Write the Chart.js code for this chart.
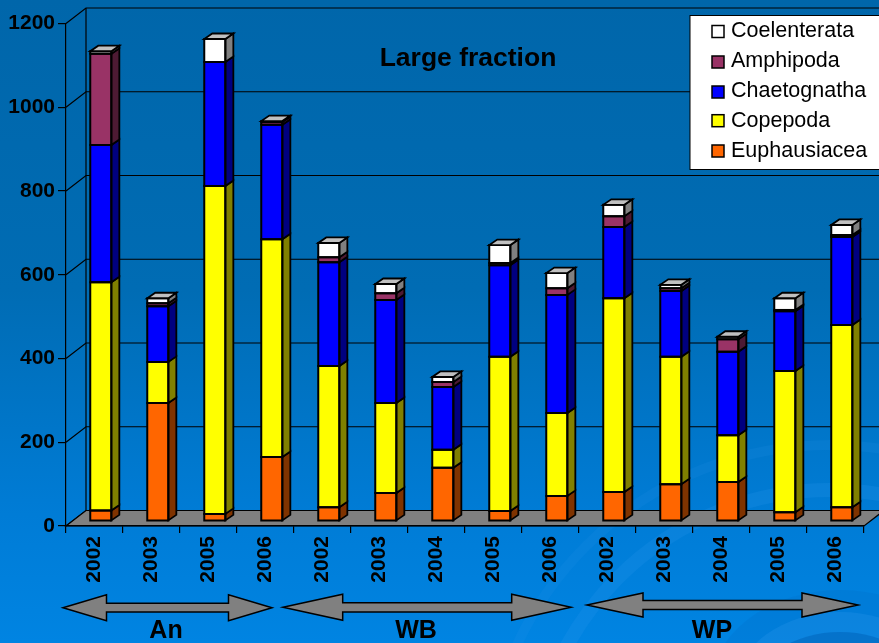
<!DOCTYPE html>
<html><head><meta charset="utf-8">
<style>html,body{margin:0;padding:0;background:#0070c0}canvas{display:block}</style>
<script src="https://cdn.jsdelivr.net/npm/chart.js@4/dist/chart.umd.min.js"></script>
</head><body>
<canvas id="c" width="879" height="643" style="width:879px;height:643px"></canvas>
<script>
const categories = ['2002','2003','2005','2006','2002','2003','2004','2005','2006','2002','2003','2004','2005','2006'];
const euphausiacea = [25,282,17,153,33,67,127,24,60,69,88,93,21,33];
const copepoda     = [545,98,783,520,337,215,43,368,198,463,304,112,337,435];
const chaetognatha = [328,133,296,273,248,246,150,219,282,170,157,199,143,210];
const amphipoda    = [218,7,0,7,12,16,12,5,16,26,7,30,3,5];
const coelenterata = [6,12,55,2,34,22,12,43,36,27,8,6,28,24];
const yTicks = [0,200,400,600,800,1000,1200];
const chartTitle = 'Large fraction';
const groups = [
  {label:'An', tx:166, tipL:63, neckL:106.5, neckR:228.5, tipR:272, cy:607.7, hh:13, sh:4.4},
  {label:'WB', tx:416, tipL:283, neckL:342.7, neckR:511.7, tipR:571, cy:607.3, hh:13, sh:4.6},
  {label:'WP', tx:712, tipL:587, neckL:643, neckR:802, tipR:858, cy:605, hh:12, sh:4.4}
];
const FONT='"Liberation Sans", Arial, sans-serif';
const DX=20, DY=-15.5;          // floor/wall depth
const BX=6.3, BY=-5;            // bar offset inside the depth
const SX=8, SY=-5.5;            // bar side depth

function poly(ctx,pts,fill,stroke,lw){
  ctx.beginPath();pts.forEach((p,i)=>i?ctx.lineTo(p[0],p[1]):ctx.moveTo(p[0],p[1]));ctx.closePath();
  if(fill){ctx.fillStyle=fill;ctx.fill();}
  if(stroke){ctx.strokeStyle=stroke;ctx.lineWidth=lw||1;ctx.stroke();}
}
const scene={
  id:'scene',
  beforeDraw(chart){
    const {ctx,width,height,scales:{x,y}}=chart;
    ctx.save();
    const g=ctx.createLinearGradient(0,0,0,height);
    g.addColorStop(0,'#0066AA');g.addColorStop(.45,'#006CB4');g.addColorStop(.8,'#007CD6');g.addColorStop(1,'#0084E2');
    ctx.fillStyle=g;ctx.fillRect(0,0,width,height);
    // faint background ripples
    ctx.strokeStyle='rgba(40,150,235,.22)';ctx.lineWidth=14;
    ctx.beginPath();ctx.arc(830,790,300,0,Math.PI*2);ctx.stroke();
    ctx.strokeStyle='rgba(40,150,235,.14)';ctx.lineWidth=10;
    ctx.beginPath();ctx.arc(830,790,345,0,Math.PI*2);ctx.stroke();
    ctx.fillStyle='rgba(0,110,200,.28)';
    ctx.beginPath();ctx.ellipse(840,690,130,100,0,0,Math.PI*2);ctx.fill();
    ctx.fillStyle='rgba(40,150,235,.30)';
    ctx.beginPath();ctx.ellipse(840,690,105,78,0,0,Math.PI*2);ctx.fill();
    ctx.fillStyle='rgba(0,100,185,.55)';
    ctx.beginPath();ctx.ellipse(840,690,85,58,0,0,Math.PI*2);ctx.fill();
    // walls
    const L=x.left,R=x.right,T=y.top,B=y.bottom;
    ctx.strokeStyle='#000';ctx.lineWidth=1.2;
    yTicks.forEach(v=>{
      const py=y.getPixelForValue(v);
      ctx.beginPath();ctx.moveTo(L,py);ctx.lineTo(L+DX,py+DY);ctx.lineTo(R+DX,py+DY);ctx.stroke();
    });
    ctx.beginPath();ctx.moveTo(L+DX,T+DY);ctx.lineTo(L+DX,B+DY);ctx.stroke();
    poly(ctx,[[L,B],[R,B],[R+DX,B+DY],[L+DX,B+DY]],'#808080','#000',1.2);
    ctx.restore();
  },
  beforeDatasetsDraw(chart){
    const ctx=chart.ctx;ctx.save();ctx.translate(BX,BY);
  },
  afterDatasetsDraw(chart){
    const ctx=chart.ctx;
    const last=chart.data.datasets.length-1;
    chart.data.datasets.forEach((ds,di)=>{
      chart.getDatasetMeta(di).data.forEach((el,i)=>{
        if(!ds.data[i]) return;
        const p=el.getProps(['x','y','base','width'],true);
        const l=p.x-p.width/2,r=p.x+p.width/2,t=p.y,b=p.base;
        poly(ctx,[[r,t],[r+SX,t+SY],[r+SX,b+SY],[r,b]],ds.sideColor,'#000',1.8);
        poly(ctx,[[l,t],[r,t],[r,b],[l,b]],null,'#000',2);
        if(di===last) poly(ctx,[[l,t],[r,t],[r+SX,t+SY],[l+SX,t+SY]],ds.topColor,'#000',1.8);
      });
    });
    ctx.restore();
  },
  afterDraw(chart){
    const {ctx}=chart;
    ctx.save();
    ctx.textBaseline='alphabetic';
    ctx.fillStyle='#000';ctx.font='bold 26.5px '+FONT;ctx.textAlign='center';
    ctx.fillText(chartTitle,468,66);
    ctx.fillStyle='#fff';ctx.strokeStyle='#000';ctx.lineWidth=1;
    ctx.fillRect(690,15.5,195,154);ctx.strokeRect(690,15.5,195,154);
    const rows=[...chart.data.datasets].reverse();
    const swatchY=[31.5,62,92,120.7,151];
    const baseY=[36.7,66.7,97.2,126.7,156.7];
    ctx.font='21.5px '+FONT;ctx.textAlign='left';
    rows.forEach((ds,i)=>{
      ctx.fillStyle=ds.backgroundColor;ctx.strokeStyle='#000';ctx.lineWidth=1.5;
      ctx.fillRect(712,swatchY[i]-6,12,12);ctx.strokeRect(712,swatchY[i]-6,12,12);
      ctx.fillStyle='#000';ctx.fillText(ds.label,731,baseY[i]);
    });
    groups.forEach(a=>{
      poly(ctx,[[a.tipL,a.cy],[a.neckL,a.cy-a.hh],[a.neckL,a.cy-a.sh],[a.neckR,a.cy-a.sh],[a.neckR,a.cy-a.hh],
        [a.tipR,a.cy],[a.neckR,a.cy+a.hh],[a.neckR,a.cy+a.sh],[a.neckL,a.cy+a.sh],[a.neckL,a.cy+a.hh]],'#808080','#000',1.5);
      ctx.fillStyle='#000';ctx.font='bold 25px '+FONT;ctx.textAlign='center';
      ctx.fillText(a.label,a.tx,638);
    });
    ctx.restore();
  }
};
const series=[
  ['Euphausiacea',euphausiacea,'#FF6600','#7F3300','#BF4C00'],
  ['Copepoda',copepoda,'#FFFF00','#808000','#BFBF00'],
  ['Chaetognatha',chaetognatha,'#0000FF','#000080','#0000BF'],
  ['Amphipoda',amphipoda,'#993366','#4D1A33','#732650'],
  ['Coelenterata',coelenterata,'#FFFFFF','#808080','#C0C0C0']
];
new Chart(document.getElementById('c'),{
  type:'bar',
  data:{labels:categories,datasets:series.map(s=>({
    label:s[0],data:s[1],backgroundColor:s[2],sideColor:s[3],topColor:s[4],
    borderWidth:0,clip:false,
    categoryPercentage:.37,barPercentage:1
  }))},
  options:{
    responsive:false,animation:false,
    layout:{padding:{top:23.5,right:15,left:0,bottom:0}},
    plugins:{legend:{display:false},title:{display:false},tooltip:{enabled:false}},
    scales:{
      x:{stacked:true,
        afterFit(s){s.height=117;},
        grid:{display:true,drawOnChartArea:false,drawTicks:true,tickLength:7,color:'#000',lineWidth:1.2,offset:true},
        border:{color:'#000',width:1.2},
        ticks:{color:'#000',font:{family:FONT,size:21,weight:'bold'},maxRotation:90,minRotation:90,autoSkip:false,padding:3}},
      y:{stacked:true,min:0,max:1200,
        afterFit(s){s.width=66;},
        afterBuildTicks(s){s.ticks=yTicks.map(v=>({value:v}));},
        grid:{display:true,drawOnChartArea:false,drawTicks:true,tickLength:8,color:'#000',lineWidth:1.2},
        border:{color:'#000',width:1.2},
        ticks:{color:'#000',font:{family:FONT,size:21,weight:'bold'},padding:3,callback:v=>String(v)}}
    }
  },
  plugins:[scene]
});
</script>
</body></html>
